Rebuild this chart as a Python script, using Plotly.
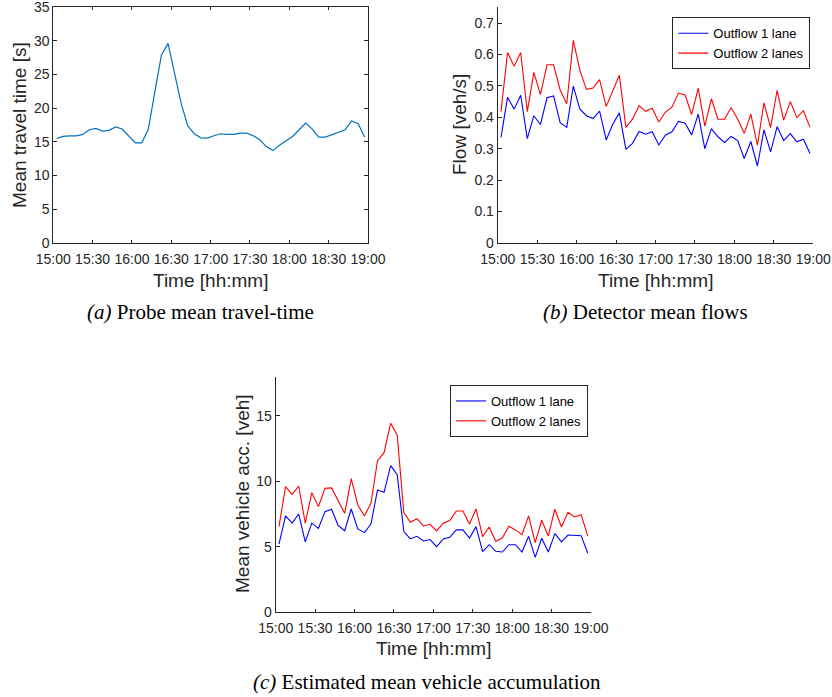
import pandas as pd
import plotly.graph_objects as go

# Time stamps (5-minute interval midpoints, 15:00-19:00)
times = pd.date_range("2020-01-01 15:02:30", periods=48, freq="5min")
tick_vals = pd.date_range("2020-01-01 15:00", periods=9, freq="30min")
tick_text = ["15:00", "15:30", "16:00", "16:30", "17:00", "17:30", "18:00", "18:30", "19:00"]

# (a) Probe mean travel time [s]
travel_time = [15.5, 15.8, 15.9, 15.9, 16.1, 16.8, 17.0, 16.6, 16.7, 17.2,
               16.9, 15.8, 14.85, 14.85, 16.9, 22.5, 27.9, 29.6, 25.1, 20.7,
               17.4, 16.2, 15.6, 15.55, 15.9, 16.2, 16.1, 16.1, 16.3, 16.3,
               15.9, 15.3, 14.3, 13.7, 14.5, 15.1, 15.8, 16.8, 17.8, 16.9,
               15.7, 15.7, 16.1, 16.4, 16.8, 18.1, 17.7, 15.7]

# (b) Detector mean flows [veh/s]
flow_1lane = [0.336, 0.464, 0.426, 0.470, 0.332, 0.405, 0.377, 0.462, 0.468, 0.383,
              0.368, 0.499, 0.426, 0.405, 0.396, 0.420, 0.328, 0.378, 0.414, 0.298,
              0.317, 0.355, 0.346, 0.354, 0.312, 0.343, 0.354, 0.387, 0.381, 0.344,
              0.410, 0.300, 0.364, 0.338, 0.320, 0.339, 0.326, 0.269, 0.323, 0.245,
              0.360, 0.290, 0.370, 0.326, 0.348, 0.322, 0.330, 0.285]
flow_2lanes = [0.418, 0.606, 0.562, 0.606, 0.418, 0.543, 0.472, 0.567, 0.567, 0.487,
               0.443, 0.645, 0.549, 0.489, 0.493, 0.520, 0.434, 0.484, 0.534, 0.368,
               0.394, 0.437, 0.419, 0.429, 0.385, 0.416, 0.432, 0.477, 0.471, 0.409,
               0.493, 0.372, 0.459, 0.394, 0.394, 0.431, 0.394, 0.349, 0.410, 0.311,
               0.446, 0.367, 0.486, 0.391, 0.450, 0.399, 0.421, 0.368]

# (c) Estimated mean vehicle accumulation [veh]
acc_1lane = [5.2, 7.35, 6.8, 7.5, 5.36, 6.8, 6.4, 7.68, 7.86, 6.63,
             6.22, 7.88, 6.35, 6.07, 6.73, 9.34, 9.16, 11.2, 10.5, 6.15,
             5.59, 5.79, 5.43, 5.54, 5.0, 5.59, 5.71, 6.28, 6.28, 5.66,
             6.53, 4.62, 5.15, 4.64, 4.59, 5.15, 5.15, 4.59, 5.79, 4.18,
             5.64, 4.59, 6.0, 5.36, 5.89, 5.87, 5.84, 4.49]
acc_2lanes = [6.53, 9.59, 9.0, 9.64, 6.79, 9.13, 8.06, 9.46, 9.49, 8.52,
              7.55, 10.2, 8.19, 7.35, 8.32, 11.58, 12.19, 14.44, 13.55, 7.6,
              6.86, 7.14, 6.58, 6.71, 6.2, 6.79, 6.99, 7.73, 7.73, 6.73,
              7.88, 5.77, 6.5, 5.41, 5.66, 6.56, 6.28, 5.92, 7.35, 5.31,
              7.02, 5.82, 7.86, 6.5, 7.63, 7.27, 7.45, 5.82]

series_names = ["Outflow 1 lane", "Outflow 2 lanes"]
x_title = "Time [hh:mm]"
y_titles = ["Mean travel time [s]", "Flow [veh/s]", "Mean vehicle acc. [veh]"]
captions = ["<i>(a)</i> Probe mean travel-time",
            "<i>(b)</i> Detector mean flows",
            "<i>(c)</i> Estimated mean vehicle accumulation"]

AX = "#262626"
SANS = "Liberation Sans, Arial, sans-serif"
SERIF = "Liberation Serif, Times New Roman, serif"

fig = go.Figure()
fig.add_trace(go.Scatter(x=times, y=travel_time, mode="lines",
                         line=dict(color="#0072BD", width=1.2),
                         showlegend=False, xaxis="x", yaxis="y"))
fig.add_trace(go.Scatter(x=times, y=flow_1lane, mode="lines", name=series_names[0],
                         line=dict(color="#0000FF", width=1.1),
                         xaxis="x2", yaxis="y2", legend="legend"))
fig.add_trace(go.Scatter(x=times, y=flow_2lanes, mode="lines", name=series_names[1],
                         line=dict(color="#FF0000", width=1.1),
                         xaxis="x2", yaxis="y2", legend="legend"))
fig.add_trace(go.Scatter(x=times, y=acc_1lane, mode="lines", name=series_names[0],
                         line=dict(color="#0000FF", width=1.1),
                         xaxis="x3", yaxis="y3", legend="legend2"))
fig.add_trace(go.Scatter(x=times, y=acc_2lanes, mode="lines", name=series_names[1],
                         line=dict(color="#FF0000", width=1.1),
                         xaxis="x3", yaxis="y3", legend="legend2"))

W, H = 832, 697


def xdom(l, r):
    return [l / W, r / W]


def ydom(top, bot):
    return [1 - bot / H, 1 - top / H]


def xax(domain, anchor, mirror):
    return dict(domain=domain, anchor=anchor, type="date", automargin=False,
                range=[tick_vals[0], tick_vals[-1]],
                tickmode="array", tickvals=list(tick_vals), ticktext=tick_text,
                showline=True, linecolor=AX, linewidth=1, mirror=mirror,
                ticks="inside", ticklen=3, tickcolor=AX, tickwidth=1,
                ticklabelstandoff=3,
                showgrid=False, zeroline=False, ticklabeloverflow="allow",
                tickfont=dict(family=SANS, size=14, color=AX))


def yax(domain, anchor, rng, dtick, mirror):
    return dict(domain=domain, anchor=anchor, range=rng, dtick=dtick, tick0=0,
                automargin=False,
                showline=True, linecolor=AX, linewidth=1, mirror=mirror,
                ticks="inside", ticklen=4, tickcolor=AX, tickwidth=1,
                showgrid=False, zeroline=False, ticklabeloverflow="allow",
                tickfont=dict(family=SANS, size=14, color=AX))


leg = dict(xanchor="left", yanchor="top", bgcolor="white", bordercolor=AX,
           borderwidth=1, font=dict(family=SANS, size=13, color="black"),
           tracegroupgap=0, itemwidth=30)

fig.update_layout(
    width=W, height=H, autosize=False,
    margin=dict(l=0, r=0, t=0, b=0, autoexpand=False),
    paper_bgcolor="white", plot_bgcolor="white",
    xaxis=xax(xdom(53.3, 368), "y", "ticks"),
    yaxis=yax(ydom(7, 243), "x", [0, 35], 5, "ticks"),
    xaxis2=xax(xdom(497.7, 813.3), "y2", False),
    yaxis2=yax(ydom(7.3, 243), "x2", [0, 0.75], 0.1, False),
    xaxis3=xax(xdom(275.7, 591), "y3", False),
    yaxis3=yax(ydom(376.7, 612), "x3", [0, 18], 5, False),
    legend=dict(x=672.3 / W, y=1 - 17.3 / H, **leg),
    legend2=dict(x=450 / W, y=1 - 385 / H, **leg),
)

# axis titles
xt_pos = [(210.7, 280), (655.5, 280), (433, 648)]
yt_pos = [(20, 125), (460, 125), (242, 494)]
for (cx, cy) in xt_pos:
    fig.add_annotation(text=x_title, x=cx / W, y=1 - cy / H, xref="paper", yref="paper",
                       xanchor="center", yanchor="middle", showarrow=False,
                       font=dict(family=SANS, size=19, color=AX))
for text, (cx, cy) in zip(y_titles, yt_pos):
    fig.add_annotation(text=text, x=cx / W, y=1 - cy / H, xref="paper", yref="paper",
                       xanchor="center", yanchor="middle", showarrow=False, textangle=-90,
                       font=dict(family=SANS, size=19, color=AX))

cap_pos = [(200, 312), (645, 312), (426.5, 682)]
for text, (cx, cy) in zip(captions, cap_pos):
    fig.add_annotation(text=text, x=cx / W, y=1 - cy / H, xref="paper", yref="paper",
                       xanchor="center", yanchor="middle", showarrow=False,
                       font=dict(family=SERIF, size=21, color="black"))

fig.write_html("out.html")
